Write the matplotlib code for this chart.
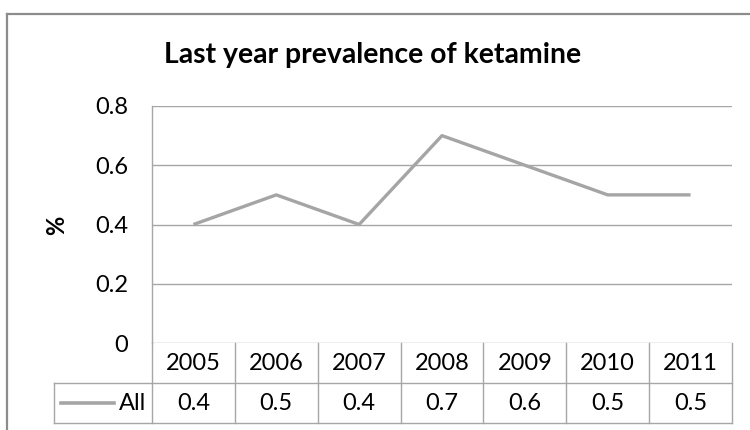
import matplotlib
matplotlib.use("Agg")
import matplotlib.pyplot as plt
from matplotlib.lines import Line2D

years = ["2005", "2006", "2007", "2008", "2009", "2010", "2011"]
values = [0.4, 0.5, 0.4, 0.7, 0.6, 0.5, 0.5]
value_labels = ["0.4", "0.5", "0.4", "0.7", "0.6", "0.5", "0.5"]
yticks = [0, 0.2, 0.4, 0.6, 0.8]
ytick_labels = ["0", "0.2", "0.4", "0.6", "0.8"]
series_name = "All"
title = "Last year prevalence of ketamine"
ylabel = "%"

plt.rcParams['font.family'] = ['Lato', 'DejaVu Sans']

W, H = 750, 430
fig = plt.figure(figsize=(W / 100, H / 100), dpi=100)

def fx(px):
    return px / W

def fy(py):
    return 1 - py / H

grid_c = "#A6A6A6"
line_c = "#A5A5A5"
txt_c = "#000000"
FS = 17

# outer chart frame
fig.add_artist(Line2D([fx(7), fx(7)], [fy(14), fy(440)], color="#8C8C8C", lw=1.6))
fig.add_artist(Line2D([fx(7), fx(760)], [fy(14), fy(14)], color="#8C8C8C", lw=1.6))

left, right, top, bottom = 152, 732, 106, 343
ax = fig.add_axes([fx(left), fy(bottom), fx(right) - fx(left), fy(top) - fy(bottom)])
x = list(range(len(years)))
ax.plot(x, values, color=line_c, lw=2.4, solid_capstyle='butt', zorder=3)
ax.set_xlim(-0.5, len(years) - 0.5)
ax.set_ylim(0, 0.8)
ax.set_yticks(yticks)
ax.set_yticklabels(ytick_labels, fontsize=FS, color=txt_c)
ax.tick_params(axis='y', length=0, pad=17)
ax.set_xticks([])
for s in ["top", "right", "bottom"]:
    ax.spines[s].set_visible(False)
ax.spines["left"].set_color(grid_c)
ax.spines["left"].set_linewidth(1.0)
ax.yaxis.grid(True, color=grid_c, lw=1.0)
ax.set_axisbelow(True)

fig.text(fx(57), fy(225), ylabel, fontsize=FS, fontweight='bold', rotation=90,
         ha='center', va='center', color=txt_c)

fig.text(fx(373), fy(63), title, fontsize=20.4, fontweight='bold',
         ha='center', va='baseline', color=txt_c)

# data table
r1_top, r_mid, r_bot = 343, 383, 423
lx = 54
tc = grid_c
def hline(x0, x1, y):
    fig.add_artist(Line2D([fx(x0), fx(x1)], [fy(y), fy(y)], color=tc, lw=1.0))
def vline(xp, y0, y1):
    fig.add_artist(Line2D([fx(xp), fx(xp)], [fy(y0), fy(y1)], color=tc, lw=1.0))

hline(lx, right, r_mid)
hline(lx, right, r_bot)
vline(lx, r_mid, r_bot)
vline(left, bottom, r_bot)
colw = (right - left) / len(years)
for i in range(1, len(years) + 1):
    vline(left + i * colw, r1_top, r_bot)

trans = ax.get_xaxis_transform()
ya = (bottom - (r1_top + r_mid) / 2) / (bottom - top)
yb = (bottom - (r_mid + r_bot) / 2) / (bottom - top)
for i, (yr, vl) in enumerate(zip(years, value_labels)):
    ax.text(i, ya, yr, transform=trans, ha='center', va='center', fontsize=FS, clip_on=False)
    ax.text(i, yb, vl, transform=trans, ha='center', va='center', fontsize=FS, clip_on=False)

# legend key in table
ymid = (r_mid + r_bot) / 2
fig.add_artist(Line2D([fx(61), fx(114)], [fy(ymid), fy(ymid)], color=line_c, lw=2.6))
fig.text(fx(146), fy(ymid), series_name, fontsize=FS, ha='right', va='center')

fig.savefig("out.png", dpi=100)
